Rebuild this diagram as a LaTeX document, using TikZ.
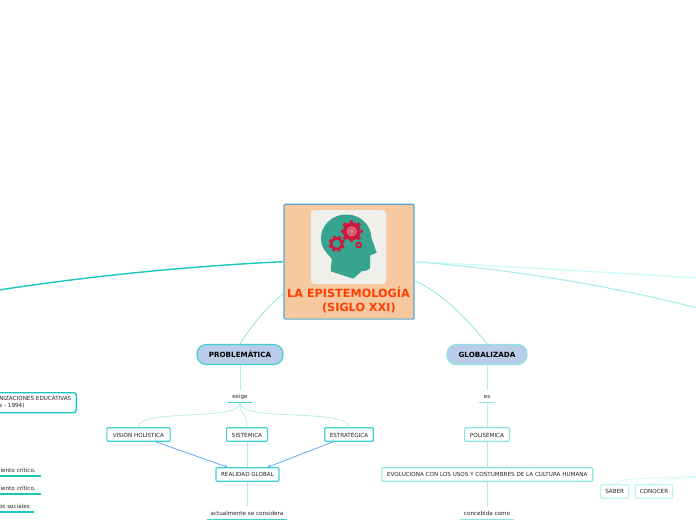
\documentclass[tikz,border=0pt]{standalone}
\usepackage{fontspec}
\setmainfont{DejaVu Sans}
\definecolor{tealmain}{HTML}{1CC6C0}
\definecolor{tealbox}{HTML}{3CD2CC}
\definecolor{teallight}{HTML}{8CE4E2}
\definecolor{tealpale}{HTML}{B4EEEA}
\definecolor{cyanpale}{HTML}{CFFBFA}
\definecolor{arrowblue}{HTML}{5AA8F5}
\definecolor{mainfill}{HTML}{F5C8A0}
\definecolor{mainedge}{HTML}{5AA5D5}
\definecolor{panelgrey}{HTML}{EFF0EC}
\definecolor{headgreen}{HTML}{36A48E}
\definecolor{gearred}{HTML}{CC1B3E}
\definecolor{topicfill}{HTML}{B9CDE8}
\definecolor{titlered}{HTML}{FF3F00}
\definecolor{textgrey}{HTML}{222222}
\tikzset{
  topicbox/.style={draw=#1, line width=0.8pt, fill=topicfill, rounded corners=6.5pt, inner sep=0pt,
    minimum height=0.5cm, font=\fontsize{5.1}{6}\selectfont\bfseries},
  itembox/.style={draw=#1, line width=0.85pt, fill=white, rounded corners=0.7pt, inner sep=0pt,
    minimum height=0.335cm, text=textgrey, font=\fontsize{4}{5}\selectfont},
  tagnode/.style={inner sep=0pt, minimum height=0.3cm, text=textgrey, font=\fontsize{4}{5}\selectfont,
    append after command={(\tikzlastnode.south west) edge[line width=0.8pt, draw=#1] (\tikzlastnode.south east)}},
  branch/.style={draw=#1, line width=0.55pt},
  relation/.style={draw=arrowblue, line width=0.55pt, -{Stealth[length=2.4pt,width=2.4pt]}},
}
\usetikzlibrary{arrows.meta}
\newcommand{\headgear}[3]{%
  \foreach \a in {0,45,...,315}
    \fill[gearred, rotate around={\a+#3:(#1)}] ($(#1)+(-0.16*#2,-1.0*#2)$) rectangle ($(#1)+(0.16*#2,1.0*#2)$);
  \fill[gearred] (#1) circle (0.82*#2);
}
\usetikzlibrary{calc}
\begin{document}
\begin{tikzpicture}[x=0.025cm,y=-0.025cm]
\path[use as bounding box, clip] (0,0) rectangle (696,520);
% free ends at the border
\coordinate (leftend) at (-1,290);
\coordinate (rightfar) at (697,278);
\coordinate (rightnear) at (697,308);
\coordinate (saberend) at (697,476.7);
\coordinate (conocerend) at (697,477.5);
% central box
\node[draw=mainedge, line width=0.8pt, fill=mainfill, rounded corners=0.8pt, minimum width=3.25cm, minimum height=2.87cm, inner sep=0pt] (mainbox) at (349,261.7) {};
\fill[panelgrey, rounded corners=2.5pt] (311,210) rectangle (386,284);
\fill[headgreen] (353.3,278.7) -- (330.7,271.3) -- (331.7,258.7)
  .. controls (325,251) and (321,247) .. (321,240)
  .. controls (320,226) and (332,214) .. (347,214.5)
  .. controls (362,215) and (371,226) .. (371.5,238)
  -- (376.7,252.7) -- (370,255.5) -- (370,268)
  .. controls (368,271) and (364,271) .. (361.7,271.3) -- cycle;
\headgear{351.7,231.3}{11}{0}
\fill[gearred!55!panelgrey] (351.7,231.3) circle (5);
\draw[gearred, line width=0.4pt] (351.7,231.3) circle (3);
\headgear{336.7,243.7}{8}{20}
\fill[headgreen] (336.7,243.7) circle (4);
\fill[gearred] (358.7,245) circle (3.4);
\fill[headgreen] (358.7,245) circle (1.5);
\node[text=titlered, font=\fontsize{8}{9.7}\selectfont\bfseries, align=left, inner sep=0pt] (maintitle) at (348.5,300) {LA EPISTEMOLOGÍA\\\hspace{3.1em}(SIGLO XXI)};
% topics
\node[topicbox=tealbox, minimum width=2.15cm] (problematica) at (240,354.5) {PROBLEMÁTICA};
\node[topicbox=teallight, minimum width=2cm] (globalizada) at (487,354.5) {GLOBALIZADA};
% problematica branch
\node[tagnode=tealbox, minimum width=0.6cm] (exige) at (240,396.5) {exige};
\node[itembox=tealbox, minimum width=1.58cm] (vision) at (138.5,434.5) {VISIÓN HOLÍSTICA};
\node[itembox=tealbox, minimum width=1.02cm] (sistemica) at (247,434.5) {SISTÉMICA};
\node[itembox=tealbox, minimum width=1.21cm] (estrategica) at (349,434.5) {ESTRATÉGICA};
\node[itembox=tealbox, minimum width=1.57cm] (realidad) at (247.5,474.5) {REALIDAD GLOBAL};
\node[tagnode=tealbox, minimum width=2cm] (actualmente) at (247,513.5) {actualmente se considera};
% globalizada branch
\node[tagnode=teallight, minimum width=0.4cm] (es) at (487,396.5) {es};
\node[itembox=teallight, minimum width=1.12cm] (polisemica) at (487,434.5) {POLISÉMICA};
\node[itembox=teallight, minimum width=5.27cm] (evoluciona) at (487.3,474.5) {EVOLUCIONA CON LOS USOS Y COSTUMBRES DE LA CULTURA HUMANA};
\node[tagnode=teallight, minimum width=1.33cm] (concebida) at (487,513.5) {concebida como};
\node[itembox=cyanpale!70!teallight, minimum width=0.7cm] (saber) at (614.7,491.5) {SABER};
\node[itembox=cyanpale!70!teallight, minimum width=0.94cm] (conocer) at (654,491.5) {CONOCER};
% left border
\node[itembox=tealmain, line width=1pt, rounded corners=2pt, anchor=east, minimum height=0.5cm, text width=1.8cm, inner xsep=0.125cm, align=left] (organizaciones) at (77,402.7) {\mbox{NIZACIONES EDUCATIVAS}\\s - 1994)};
\node[tagnode=tealmain, anchor=south east, minimum height=0.26cm, text width=1.5cm, inner xsep=0.125cm, align=right] (critico) at (41,476) {miento crítico.};
\node[tagnode=tealmain, anchor=south east, minimum height=0.26cm, text width=1.5cm, inner xsep=0.125cm, align=right] (criticob) at (41,494) {miento crítico.};
\node[tagnode=tealmain, anchor=south east, minimum height=0.26cm, text width=1.5cm, inner xsep=0.1cm, align=right] (sociales) at (34,512) {os sociales};
% connectors
\draw[branch=tealmain, line width=1pt] (mainbox.west) .. controls (190,266) and (90,276) .. (leftend);
\draw[branch=cyanpale, line width=1pt] (mainbox.east) .. controls (500,266) and (600,272) .. (rightfar);
\draw[branch=teallight!70!white, line width=0.8pt] (mainbox.east) .. controls (520,270) and (620,288) .. (rightnear);
\draw[branch=teallight] (mainbox.206) .. controls (265,308) and (250,328) .. (problematica.north);
\draw[branch=teallight] (mainbox.344) .. controls (445,295) and (470,322) .. (globalizada.north);
\draw[branch=tealpale] (problematica.south) -- (exige.north);
\draw[branch=tealpale] (exige.south) .. controls (240,422) and (138,408) .. (vision.north);
\draw[branch=tealpale] (exige.south) .. controls (240,416) and (247,412) .. (sistemica.north);
\draw[branch=tealpale] (exige.south) .. controls (240,422) and (349,408) .. (estrategica.north);
\draw[branch=tealpale] (sistemica.south) -- (realidad.north-|sistemica.south);
\draw[branch=tealpale] (realidad.south-|actualmente.north) -- (actualmente.north);
\draw[relation] (vision.south east)++(-15,0) coordinate (visionfoot) -- ($(realidad.north west)+(12,0)$);
\draw[relation] (estrategica.south west)++(9,0) coordinate (estrategicafoot) -- ($(realidad.north east)+(-12,0)$);
\draw[branch=tealpale] (globalizada.south) -- (es.north);
\draw[branch=tealpale] (es.south) -- (polisemica.north);
\draw[branch=tealpale] (polisemica.south) -- (evoluciona.north-|polisemica.south);
\draw[branch=tealpale] (evoluciona.south-|concebida.north) -- (concebida.north);
\draw[branch=cyanpale] (saber.north) .. controls (616,479) and (640,478) .. (saberend);
\draw[branch=cyanpale] (conocer.north) .. controls (656,480) and (670,478) .. (conocerend);
\end{tikzpicture}
\end{document}
